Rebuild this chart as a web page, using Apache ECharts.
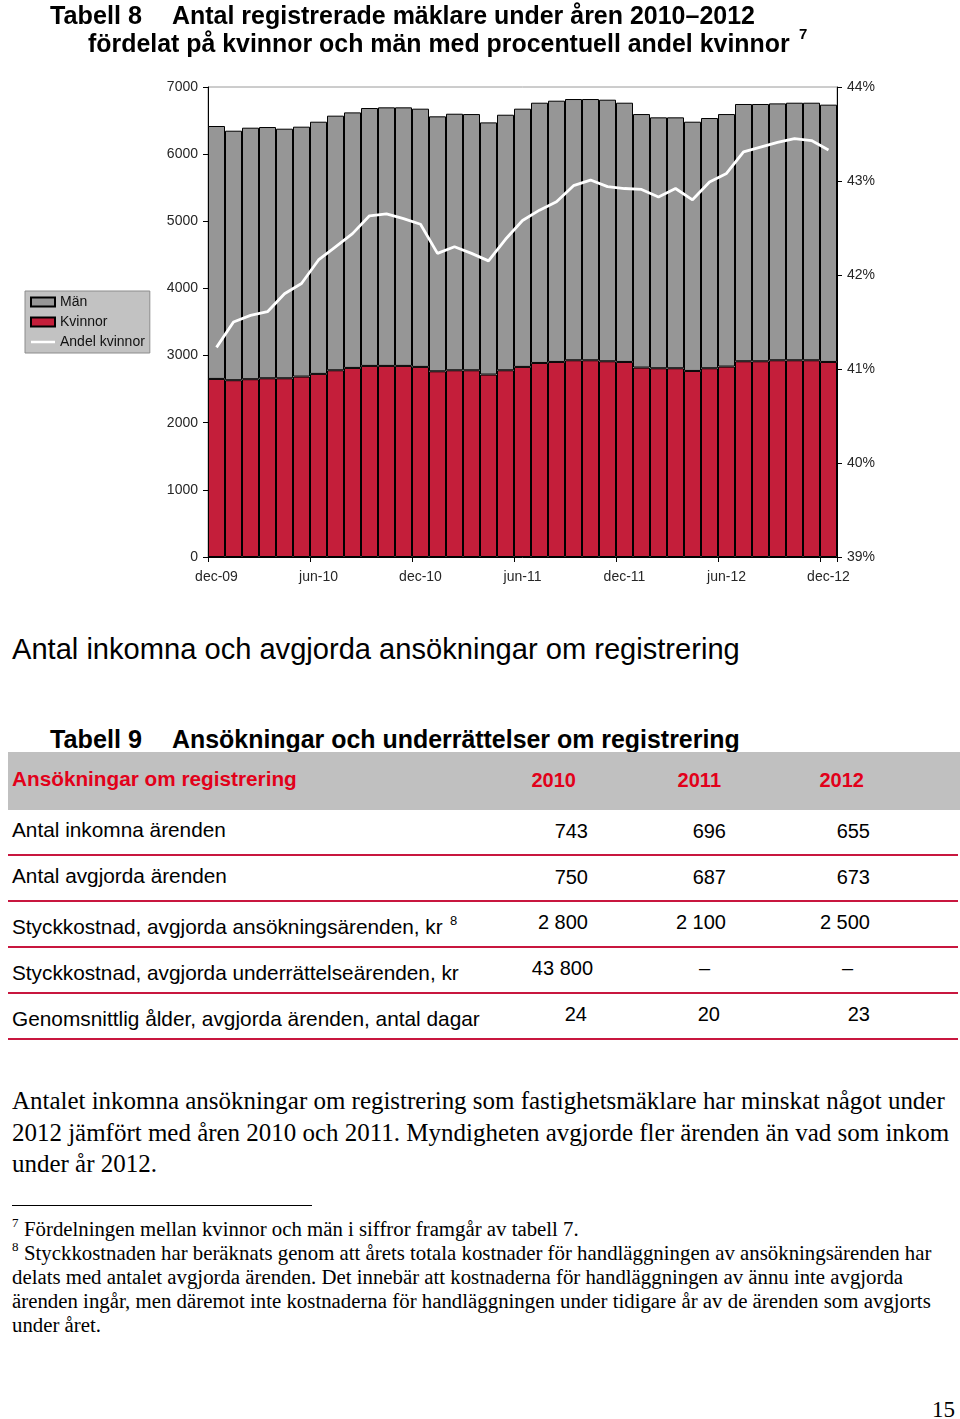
<!DOCTYPE html>
<html><head><meta charset="utf-8">
<script src="https://cdn.jsdelivr.net/npm/echarts@6/dist/echarts.min.js"></script>
<style>
html,body{margin:0;padding:0}
body{width:960px;height:1419px;position:relative;background:#fff;overflow:hidden;font-family:"Liberation Sans",Arial,sans-serif;color:#000}
.t{position:absolute;white-space:nowrap;line-height:1}
.box{position:absolute}
</style></head><body>
<div id="chart" style="position:absolute;left:0;top:0;width:960px;height:610px"></div>
<script>
// ---------- chart data ----------
const months = ['dec-09','jan-10','feb-10','mar-10','apr-10','maj-10','jun-10','jul-10','aug-10','sep-10','okt-10','nov-10',
  'dec-10','jan-11','feb-11','mar-11','apr-11','maj-11','jun-11','jul-11','aug-11','sep-11','okt-11','nov-11',
  'dec-11','jan-12','feb-12','mar-12','apr-12','maj-12','jun-12','jul-12','aug-12','sep-12','okt-12','nov-12','dec-12'];
const kvinnor = [2652,2633,2648,2662,2662,2687,2727,2781,2816,2846,2846,2846,2831,2766,2781,2781,2717,2781,2831,2890,2905,2930,2930,2915,2905,2821,2811,2811,2771,2811,2836,2915,2915,2930,2930,2930,2905];
const man = [3767,3716,3746,3742,3717,3722,3756,3792,3806,3841,3851,3851,3846,3797,3821,3816,3756,3806,3846,3876,3891,3891,3891,3896,3861,3776,3737,3737,3712,3727,3761,3832,3832,3826,3836,3836,3832];
const andelKvinnor = [41.23,41.50,41.57,41.61,41.80,41.91,42.16,42.30,42.44,42.63,42.65,42.60,42.54,42.23,42.30,42.23,42.15,42.38,42.58,42.69,42.78,42.95,43.01,42.94,42.92,42.91,42.83,42.92,42.80,42.99,43.08,43.31,43.36,43.41,43.45,43.43,43.33];
const seriesNames = ['Män','Kvinnor','Andel kvinnor'];

// ---------- table data ----------
const tableHead = 'Ansökningar om registrering';
const tableYears = ['2010','2011','2012'];
const tableRows = ['Antal inkomna ärenden','Antal avgjorda ärenden','Styckkostnad, avgjorda ansökningsärenden, kr',
  'Styckkostnad, avgjorda underrättelseärenden, kr','Genomsnittlig ålder, avgjorda ärenden, antal dagar'];
const tableVals = [['743','696','655'],['750','687','673'],['2 800','2 100','2 500'],['43 800','–','–'],['24','20','23']];

// ---------- texts ----------
const title8a = 'Tabell 8', title8b = 'Antal registrerade mäklare under åren 2010–2012',
      title8c = 'fördelat på kvinnor och män med procentuell andel kvinnor';
const heading = 'Antal inkomna och avgjorda ansökningar om registrering';
const title9a = 'Tabell 9', title9b = 'Ansökningar och underrättelser om registrering';
const bodyLines = ['Antalet inkomna ansökningar om registrering som fastighetsmäklare har minskat något under',
  '2012 jämfört med åren 2010 och 2011. Myndigheten avgjorde fler ärenden än vad som inkom',
  'under år 2012.'];
const foot7 = 'Fördelningen mellan kvinnor och män i siffror framgår av tabell 7.';
const foot8 = ['Styckkostnaden har beräknats genom att årets totala kostnader för handläggningen av ansökningsärenden har',
  'delats med antalet avgjorda ärenden. Det innebär att kostnaderna för handläggningen av ännu inte avgjorda',
  'ärenden ingår, men däremot inte kostnaderna för handläggningen under tidigare år av de ärenden som avgjorts',
  'under året.'];
const pageNo = '15';

// ---------- text helpers ----------
const SANS = '"Liberation Sans",Arial,sans-serif', SERIF = '"Liberation Serif","Times New Roman",serif';
function T(txt, x, base, fs, o) {
  o = o || {};
  const d = document.createElement('div');
  d.className = 't';
  d.textContent = txt;
  const fam = o.serif ? SERIF : SANS;
  d.style.fontFamily = fam;
  d.style.fontWeight = o.bold ? 'bold' : 'normal';
  d.style.color = o.color || '#000';
  d.style.fontSize = fs + 'px';
  document.body.appendChild(d);
  if (o.w) { const w = d.getBoundingClientRect().width; fs = fs * o.w / w; d.style.fontSize = fs + 'px'; }
  const k = o.serif ? 0.8375 : 0.846;
  d.style.top = (base - k * fs) + 'px';
  if (o.right) { const w = d.getBoundingClientRect().width; d.style.left = (x - w) + 'px'; }
  else d.style.left = x + 'px';
  return d;
}
function R(x, y, w, h, c) {
  const d = document.createElement('div'); d.className = 'box';
  Object.assign(d.style, {left: x + 'px', top: y + 'px', width: w + 'px', height: h + 'px', background: c});
  document.body.appendChild(d);
}

// titles
T(title8a, 50, 24, 24, {bold: 1, w: 92});
T(title8b, 172, 24, 24, {bold: 1, w: 583});
T(title8c, 88, 52, 24, {bold: 1, w: 702});
T('7', 799, 39, 15, {bold: 1});

T(heading, 12, 660, 28, {w: 728});
T(title9a, 50, 748, 24, {bold: 1, w: 92});
T(title9b, 172, 748, 24, {bold: 1, w: 568});

// table
const RED = '#e2001a', LINE = '#c8173f';
R(8, 752, 952, 58, '#c0c0c0');
T(tableHead, 12, 787, 20, {bold: 1, color: RED, w: 285});
const yearRight = [576, 721, 864];
tableYears.forEach((y, i) => T(y, yearRight[i], 787, 20, {bold: 1, color: RED, right: 1}));
const labelBase = [838, 884, 935, 981, 1027];
const numBase = [838, 884, 929, 975, 1021];
const labelW = [214, 215, 431, 447, 468];
const numRight = [[588,726,870],[588,726,870],[588,726,870],[593,710,853],[587,720,870]];
tableRows.forEach((lab, r) => {
  T(lab, 12, labelBase[r], 20, {w: labelW[r]});
  tableVals[r].forEach((v, c) => T(v, numRight[r][c], numBase[r], 20, {right: 1}));
  R(8, 854 + r * 46, 950, 2, LINE);
});
T('8', 450, 925, 13);

// body text
const bodyW = [933, 938, 145];
bodyLines.forEach((l, i) => T(l, 12, 1110 + i * 31, 24, {serif: 1, w: bodyW[i]}));
R(12, 1205, 300, 1, '#000');
T('7', 12, 1227, 13, {serif: 1});
T(foot7, 24, 1236, 19, {serif: 1, w: 555});
T('8', 12, 1251, 13, {serif: 1});
const footW = [908, 892, 919, 89];
foot8.forEach((l, i) => T(l, i ? 12 : 24, 1260 + i * 24, 19, {serif: 1, w: footW[i]}));
T(pageNo, 932, 1417, 24, {serif: 1, w: 23});

// ---------- chart ----------
const chart = echarts.init(document.getElementById('chart'), null, {renderer: 'canvas'});
const axisFont = {fontSize: 14, color: '#262626', fontFamily: SANS};
chart.setOption({
  animation: false,
  backgroundColor: '#fff',
  grid: {left: 208, top: 87, width: 629, height: 470, show: true, borderColor: '#9a9a9a', borderWidth: 1, backgroundColor: 'transparent', containLabel: false},
  legend: {
    data: [
      {name: seriesNames[0], icon: 'rect'},
      {name: seriesNames[1], icon: 'rect'},
      {name: seriesNames[2], icon: 'path://M0,0 H24 V2.5 H0 Z', itemStyle: {color: '#fff', borderWidth: 0}}
    ],
    orient: 'vertical', left: 25, top: 291,
    backgroundColor: '#c2c2c2', borderColor: '#8c8c8c', borderWidth: 1,
    padding: [4, 5, 4, 5], itemWidth: 24, itemHeight: 9, itemGap: 6,
    textStyle: {fontSize: 14, color: '#111', fontFamily: SANS, lineHeight: 14}
  },
  xAxis: {
    type: 'category', data: months, boundaryGap: true,
    axisLine: {show: true, lineStyle: {color: '#000', width: 1}},
    axisTick: {show: true, interval: 5, length: 5, lineStyle: {color: '#000'}},
    axisLabel: Object.assign({interval: 5, margin: 13}, axisFont),
    splitLine: {show: false}
  },
  yAxis: [
    {type: 'value', min: 0, max: 7000, interval: 1000,
     axisLine: {show: true, lineStyle: {color: '#000'}},
     axisTick: {show: true, length: 5, lineStyle: {color: '#000'}},
     axisLabel: Object.assign({margin: 10, formatter: v => String(v)}, axisFont), splitLine: {show: false}},
    {type: 'value', min: 39, max: 44, interval: 1, position: 'right',
     axisLine: {show: true, lineStyle: {color: '#000'}},
     axisTick: {show: true, length: 5, lineStyle: {color: '#000'}},
     axisLabel: Object.assign({margin: 10, formatter: v => v + '%'}, axisFont), splitLine: {show: false}}
  ],
  series: [
    {name: 'Kvinnor', type: 'bar', stack: 'tot', data: kvinnor, barCategoryGap: '0%',
     itemStyle: {color: '#c41e3a', borderColor: '#000', borderWidth: 1}},
    {name: 'Män', type: 'bar', stack: 'tot', data: man, barCategoryGap: '0%',
     itemStyle: {color: '#969696', borderColor: '#000', borderWidth: 1}},
    {name: 'Andel kvinnor', type: 'line', yAxisIndex: 1, data: andelKvinnor, symbol: 'none', showSymbol: false, smooth: false,
     lineStyle: {color: '#fff', width: 2.8}, itemStyle: {color: '#fff'}}
  ]
});
</script>
</body></html>
